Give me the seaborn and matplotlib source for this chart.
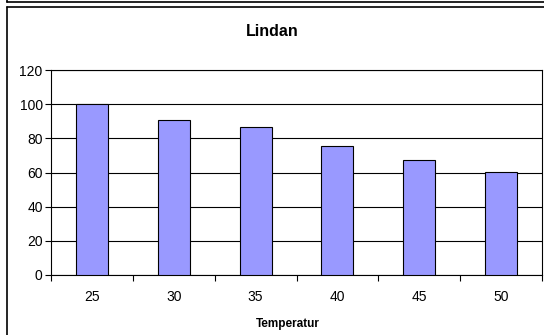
import numpy as np
import pandas as pd
import seaborn as sns
import matplotlib.pyplot as plt
from matplotlib.lines import Line2D

temperatur = ["25", "30", "35", "40", "45", "50"]
lindan = [100, 90.9, 86.6, 75.5, 67.2, 60.4]

df = pd.DataFrame({"Temperatur": temperatur, "Lindan": lindan})

sns.set_style("white")
plt.rcParams["font.family"] = ["Liberation Sans", "DejaVu Sans"]
plt.rcParams["text.color"] = "black"
plt.rcParams["axes.labelcolor"] = "black"
plt.rcParams["xtick.color"] = "black"
plt.rcParams["ytick.color"] = "black"

W, H = 544, 335
fig = plt.figure(figsize=(W / 100, H / 100), dpi=100)
ax = fig.add_axes([51 / W, 1 - 275 / H, (542 - 51) / W, (275 - 70) / H])

sns.barplot(data=df, x="Temperatur", y="Lindan", color="#9999ff", width=0.39,
            edgecolor="black", linewidth=0.8, saturation=1, ax=ax, zorder=3)

ax.set_ylim(0, 120)
ax.set_xlim(-0.5, len(temperatur) - 0.5)
ax.set_yticks(np.arange(0, 121, 20))
ax.yaxis.grid(True, color="black", linewidth=0.8)
ax.set_axisbelow(True)
for s in ax.spines.values():
    s.set_visible(True)
    s.set_color("black")
    s.set_linewidth(0.8)

ax.tick_params(axis="y", which="major", direction="out", length=4, width=0.8,
               color="black", labelcolor="black", labelsize=10, pad=2, left=True)
ax.tick_params(axis="x", which="major", length=0, labelsize=10, pad=11,
               labelcolor="black")
ax.set_xticks(np.arange(-0.5, len(temperatur)), minor=True)
ax.tick_params(axis="x", which="minor", direction="out", length=4, width=0.8,
               color="black", bottom=True)

ax.set_ylabel("")
ax.set_xlabel("Temperatur", fontsize=8.5, fontweight="bold", color="black")
ax.xaxis.set_label_coords((288 - 51) / (542 - 51), -0.21)

fig.text(0.5, 1 - 31 / H, "Lindan", ha="center", va="center",
         fontsize=11.5, fontweight="bold", color="black")

# Rahmen (Diagrammbereich und Rand des vorigen Diagramms)
lines = [
    Line2D([7 / W, 1.01], [1 - 7 / H, 1 - 7 / H]),
    Line2D([7 / W, 7 / W], [-0.01, 1 - 7 / H]),
    Line2D([7 / W, 1.01], [1 - 1.5 / H, 1 - 1.5 / H]),
    Line2D([7 / W, 7 / W], [1 - 1.5 / H, 1.01]),
]
for ln in lines:
    ln.set_color("black")
    ln.set_linewidth(1.2)
    fig.add_artist(ln)

fig.savefig("out.png", dpi=100)
